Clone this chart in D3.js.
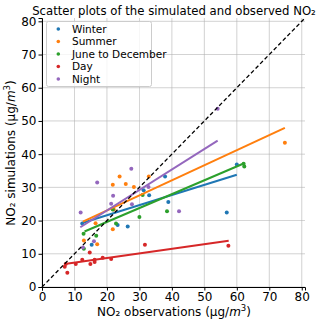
<!DOCTYPE html>
<html><head><meta charset="utf-8">
<script src="https://cdn.jsdelivr.net/npm/d3@7"></script>
<style>body{margin:0;background:#fff}svg{display:block;font-family:"DejaVu Sans",sans-serif}</style>
</head><body><svg id="c" width="320" height="324"></svg>
<script>
const seriesNames = ["Winter","Summer","June to December","Day","Night"];
const seriesColors = ["#1f77b4","#ff7f0e","#2ca02c","#d62728","#9467bd"];
const winter = [[12.4,19.1],[15.3,12.7],[23.3,18.7],[26.4,18.2],[31.3,29.1],[33.0,27.6],[37.9,33.3],[38.9,25.6],[56.9,22.4],[60.0,36.9]];
const summer = [[12.9,14.0],[16.5,19.2],[17.0,12.9],[21.8,17.4],[22.1,23.3],[21.8,30.8],[23.9,33.3],[25.8,31.0],[28.3,30.1],[32.9,33.3],[74.8,43.4]];
const juneDec = [[12.8,16.0],[12.9,11.5],[16.7,15.4],[21.8,23.3],[22.8,19.1],[30.0,21.1],[31.0,27.7],[38.5,22.8],[62.1,37.1],[62.3,36.3]];
const day = [[7.0,6.1],[7.3,6.9],[7.8,4.3],[10.4,6.9],[12.4,8.2],[14.7,10.4],[14.9,6.9],[16.2,8.2],[16.2,7.5],[18.7,8.8],[21.3,8.4],[31.7,12.7],[57.4,12.4]];
const night = [[11.9,22.4],[12.6,11.9],[16.0,13.8],[17.0,31.5],[21.3,25.1],[21.9,27.5],[27.5,35.6],[27.7,24.9],[32.8,30.1],[42.2,22.8],[54.1,53.7]];
// regression lines: [x0, y0, x1, y1]
const fits = [[12.1,19.2,60.0,33.8],[12.6,19.7,74.8,47.9],[13.1,16.7,62.1,37.2],[7.0,6.9,57.5,13.9],[11.8,18.0,54.1,44.1]];
const ticks = [0,10,20,30,40,50,60,70,80];
const allData = [winter, summer, juneDec, day, night];

const svg = d3.select("#c");
const x = d3.scaleLinear().domain([0,81]).range([42,305]);
const y = d3.scaleLinear().domain([0,81]).range([287,18]);

// grid
svg.append("g").selectAll("line").data(ticks).join("line")
  .attr("x1",d=>x(d)).attr("x2",d=>x(d)).attr("y1",y(0)).attr("y2",y(81))
  .attr("stroke","#b0b0b0").attr("stroke-width",0.8).attr("opacity",0.7);
svg.append("g").selectAll("line").data(ticks).join("line")
  .attr("y1",d=>y(d)).attr("y2",d=>y(d)).attr("x1",x(0)).attr("x2",x(81))
  .attr("stroke","#b0b0b0").attr("stroke-width",0.8).attr("opacity",0.7);

// points
allData.forEach((arr,i)=>{
  svg.append("g").selectAll("circle").data(arr).join("circle")
    .attr("cx",d=>x(d[0])).attr("cy",d=>y(d[1])).attr("r",2)
    .attr("fill",seriesColors[i]);
});
// fits
svg.append("g").selectAll("line").data(fits).join("line")
  .attr("x1",d=>x(d[0])).attr("y1",d=>y(d[1])).attr("x2",d=>x(d[2])).attr("y2",d=>y(d[3]))
  .attr("stroke",(d,i)=>seriesColors[i]).attr("stroke-width",2);
// 1:1
svg.append("line").attr("x1",x(0)).attr("y1",y(0)).attr("x2",x(81)).attr("y2",y(81))
  .attr("stroke","#000").attr("stroke-width",1.3).attr("stroke-dasharray","4,2.5");

// axes
const xa = svg.append("g").attr("transform",`translate(0,${y(0)})`)
  .call(d3.axisBottom(x).tickValues(ticks).tickSize(3.5).tickPadding(2));
const ya = svg.append("g").attr("transform",`translate(${x(0)},0)`)
  .call(d3.axisLeft(y).tickValues(ticks).tickSize(3.5).tickPadding(2));
[xa,ya].forEach(a=>{
  a.selectAll("text").attr("font-size",12).attr("fill","#000").attr("font-family","DejaVu Sans");
  a.select(".domain").attr("stroke","#000").attr("stroke-width",1);
  a.selectAll(".tick line").attr("stroke","#000");
});

// legend
const lg = svg.append("g");
lg.append("rect").attr("x",46.5).attr("y",21.5).attr("width",105).attr("height",65)
  .attr("fill","#fff").attr("fill-opacity",0.8).attr("stroke","#ccc").attr("rx",2);
seriesNames.forEach((n,i)=>{
  const yy = 29 + i*12.5;
  lg.append("circle").attr("cx",58.3).attr("cy",yy).attr("r",1.8).attr("fill",seriesColors[i]);
  lg.append("text").attr("x",72).attr("y",yy+3.8).attr("font-size",10.5).text(n);
});

// title
svg.append("text").attr("x",174).attr("y",15).attr("text-anchor","middle").attr("font-size",11.7)
  .text("Scatter plots of the simulated and observed NO₂");
// x label
const xl = svg.append("text").attr("x",174).attr("y",316).attr("text-anchor","middle").attr("font-size",12);
xl.append("tspan").text("NO₂ observations (μg/");
xl.append("tspan").attr("font-style","italic").text("m");
xl.append("tspan").attr("font-size",8.5).attr("dy",-5).text("3");
xl.append("tspan").attr("dy",5).text(")");
// y label
const yl = svg.append("text").attr("transform","translate(15,153) rotate(-90)").attr("text-anchor","middle").attr("font-size",12);
yl.append("tspan").text("NO₂ simulations (μg/");
yl.append("tspan").attr("font-style","italic").text("m");
yl.append("tspan").attr("font-size",8.5).attr("dy",-5).text("3");
yl.append("tspan").attr("dy",5).text(")");
</script></body></html>
